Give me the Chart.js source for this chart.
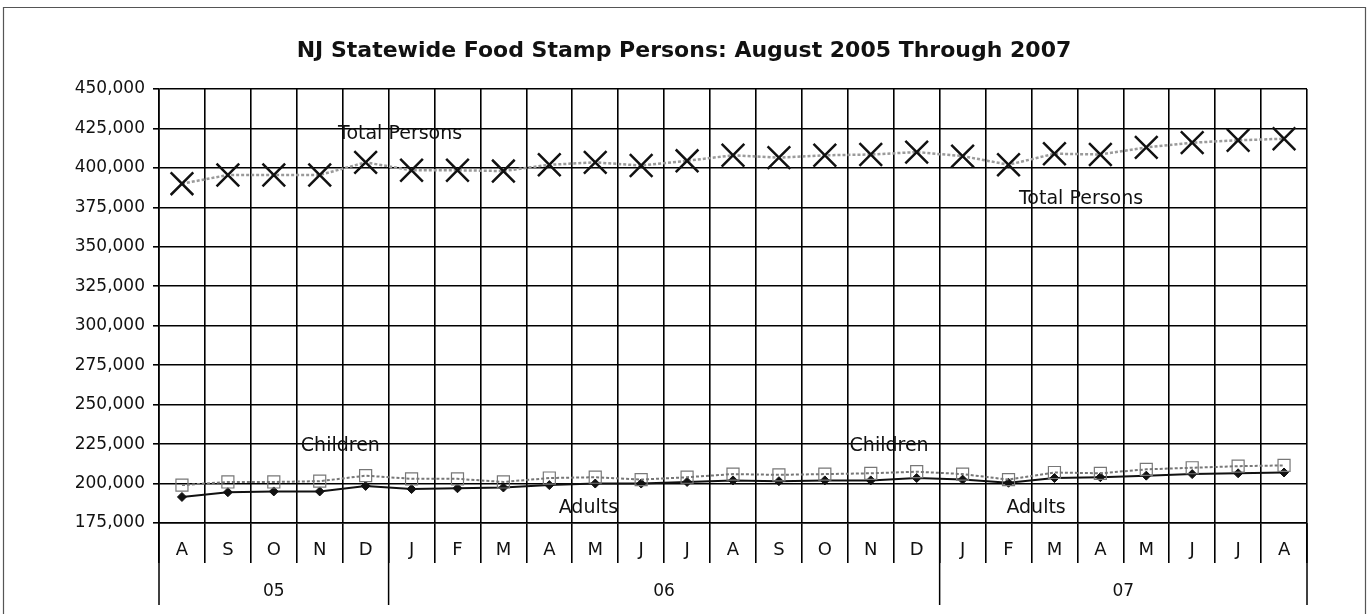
<!DOCTYPE html>
<html><head><meta charset="utf-8">
<script src="https://cdn.jsdelivr.net/npm/chart.js@4.4.1/dist/chart.umd.min.js"></script>
<style>html,body{margin:0;padding:0;background:#fff;}#wrap{width:1368px;height:614px;}</style>
</head><body><div id="wrap"><canvas id="c" width="1368" height="614"></canvas></div>
<script>
// ---- data ----
const months = ['A','S','O','N','D','J','F','M','A','M','J','J','A','S','O','N','D','J','F','M','A','M','J','J','A'];
const yearLabels = ['05','06','07'];
const yearStartIndex = [0, 5, 17];
const totalPersons = [390000,395500,395500,395500,403500,398500,398500,398000,402000,403500,401500,404500,408000,406500,408000,408500,410000,407500,402000,409000,408500,413000,416000,417500,418500];
const children =     [199000,201000,201000,201500,205000,203000,203000,201000,203500,204000,202500,204000,206000,205500,206000,206500,207500,206000,202500,207000,206500,209000,210000,211000,211500];
const adults =       [191500,194500,195000,195000,198500,196500,197000,197500,199000,200000,200000,201000,202000,201500,202000,202000,203500,202500,200500,203500,204000,205000,206000,206500,207000];
const yMin = 175000, yMax = 450000, yStep = 25000;
const titleText = 'NJ Statewide Food Stamp Persons: August 2005 Through 2007';

const FONT = '"DejaVu Sans", "Liberation Sans", Arial, sans-serif';

const labelPlugin = {
  id: 'seriesLabels',
  afterDatasetsDraw(chart) {
    const {ctx, scales:{x, y}} = chart;
    const items = [
      {t:'Total Persons', i:4.75, v:421500},
      {t:'Total Persons', i:19.58, v:380500},
      {t:'Children', i:3.45, v:224000},
      {t:'Children', i:15.4, v:224000},
      {t:'Adults', i:8.85, v:184500},
      {t:'Adults', i:18.6, v:184500}
    ];
    const step = x.getPixelForValue(1) - x.getPixelForValue(0);
    ctx.save();
    ctx.font = '19px ' + FONT;
    ctx.fillStyle = '#111';
    ctx.textAlign = 'center';
    ctx.textBaseline = 'middle';
    items.forEach(it => {
      const px = x.getPixelForValue(0) + it.i * step;
      ctx.fillText(it.t, px, y.getPixelForValue(it.v));
    });
    ctx.restore();
  }
};

const framePlugin = {
  id: 'frame',
  afterDraw(chart) {
    const {ctx, chartArea, scales:{x}} = chart;
    const step = x.getPixelForValue(1) - x.getPixelForValue(0);
    const edge = k => x.getPixelForValue(0) - step / 2 + k * step;
    ctx.save();
    ctx.strokeStyle = '#000';
    ctx.lineWidth = 1.5;
    const bounds = yearStartIndex.concat([months.length]);
    bounds.forEach(k => {
      ctx.beginPath();
      ctx.moveTo(edge(k), chartArea.bottom);
      ctx.lineTo(edge(k), 605);
      ctx.stroke();
    });
    ctx.font = '17px ' + FONT;
    ctx.fillStyle = '#111';
    ctx.textAlign = 'center';
    ctx.textBaseline = 'middle';
    yearLabels.forEach((lab, j) => {
      const cx = (edge(bounds[j]) + edge(bounds[j + 1])) / 2;
      ctx.fillText(lab, cx, 592);
    });
    ctx.strokeStyle = '#555';
    ctx.lineWidth = 1.2;
    ctx.beginPath();
    ctx.moveTo(3.5, 614);
    ctx.lineTo(3.5, 7.5);
    ctx.lineTo(1365.5, 7.5);
    ctx.lineTo(1365.5, 614);
    ctx.stroke();
    ctx.restore();
  }
};

const bgPlugin = {
  id: 'bg',
  beforeDraw(chart) {
    const ctx = chart.ctx;
    ctx.save();
    ctx.fillStyle = '#fff';
    ctx.fillRect(0, 0, chart.width, chart.height);
    ctx.restore();
  }
};

new Chart(document.getElementById('c'), {
  type: 'line',
  data: {
    labels: months,
    datasets: [
      {
        label: 'Total Persons',
        data: totalPersons,
        borderColor: '#9a9a9a',
        borderWidth: 2.5,
        borderDash: [3, 2],
        pointStyle: 'crossRot',
        pointRadius: 16,
        pointBorderColor: '#111',
        pointBorderWidth: 2.5,
        pointBackgroundColor: 'rgba(0,0,0,0)',
        tension: 0
      },
      {
        label: 'Children',
        data: children,
        borderColor: '#777',
        borderWidth: 2,
        borderDash: [3, 2],
        pointStyle: 'rect',
        pointRadius: 8.5,
        pointBorderColor: '#777',
        pointBorderWidth: 1.2,
        pointBackgroundColor: 'rgba(255,255,255,0)',
        tension: 0
      },
      {
        label: 'Adults',
        data: adults,
        borderColor: '#111',
        borderWidth: 2,
        pointStyle: 'rectRot',
        pointRadius: 4.5,
        pointBorderColor: '#111',
        pointBorderWidth: 1,
        pointBackgroundColor: '#111',
        tension: 0
      }
    ]
  },
  options: {
    responsive: false,
    animation: false,
    devicePixelRatio: 1,
    layout: { padding: { left: 61, right: 61, top: 0, bottom: 51 } },
    plugins: {
      legend: { display: false },
      tooltip: { enabled: false },
      title: {
        display: true,
        text: titleText,
        color: '#111',
        font: { family: FONT, size: 22, weight: 'bold' },
        padding: { top: 38, bottom: 24.6 }
      }
    },
    scales: {
      x: {
        type: 'category',
        offset: true,
        grid: { offset: true, color: '#000', lineWidth: 1.6, tickLength: 40, drawOnChartArea: true },
        border: { display: true, color: '#000', width: 1.6 },
        ticks: { color: '#111', font: { family: FONT, size: 18 }, padding: -23, maxRotation: 0, autoSkip: false },
        afterFit: s => { s.height = 40; }
      },
      y: {
        min: yMin,
        max: yMax,
        grid: { color: '#000', lineWidth: 1.6, tickLength: 6 },
        border: { display: true, color: '#000', width: 1.6 },
        ticks: {
          stepSize: yStep,
          color: '#111',
          font: { family: FONT, size: 17 },
          padding: 8,
          callback: v => v.toLocaleString('en-US')
        },
        afterFit: s => { s.width = 98; }
      }
    }
  },
  plugins: [bgPlugin, labelPlugin, framePlugin]
});
</script>
</body></html>
